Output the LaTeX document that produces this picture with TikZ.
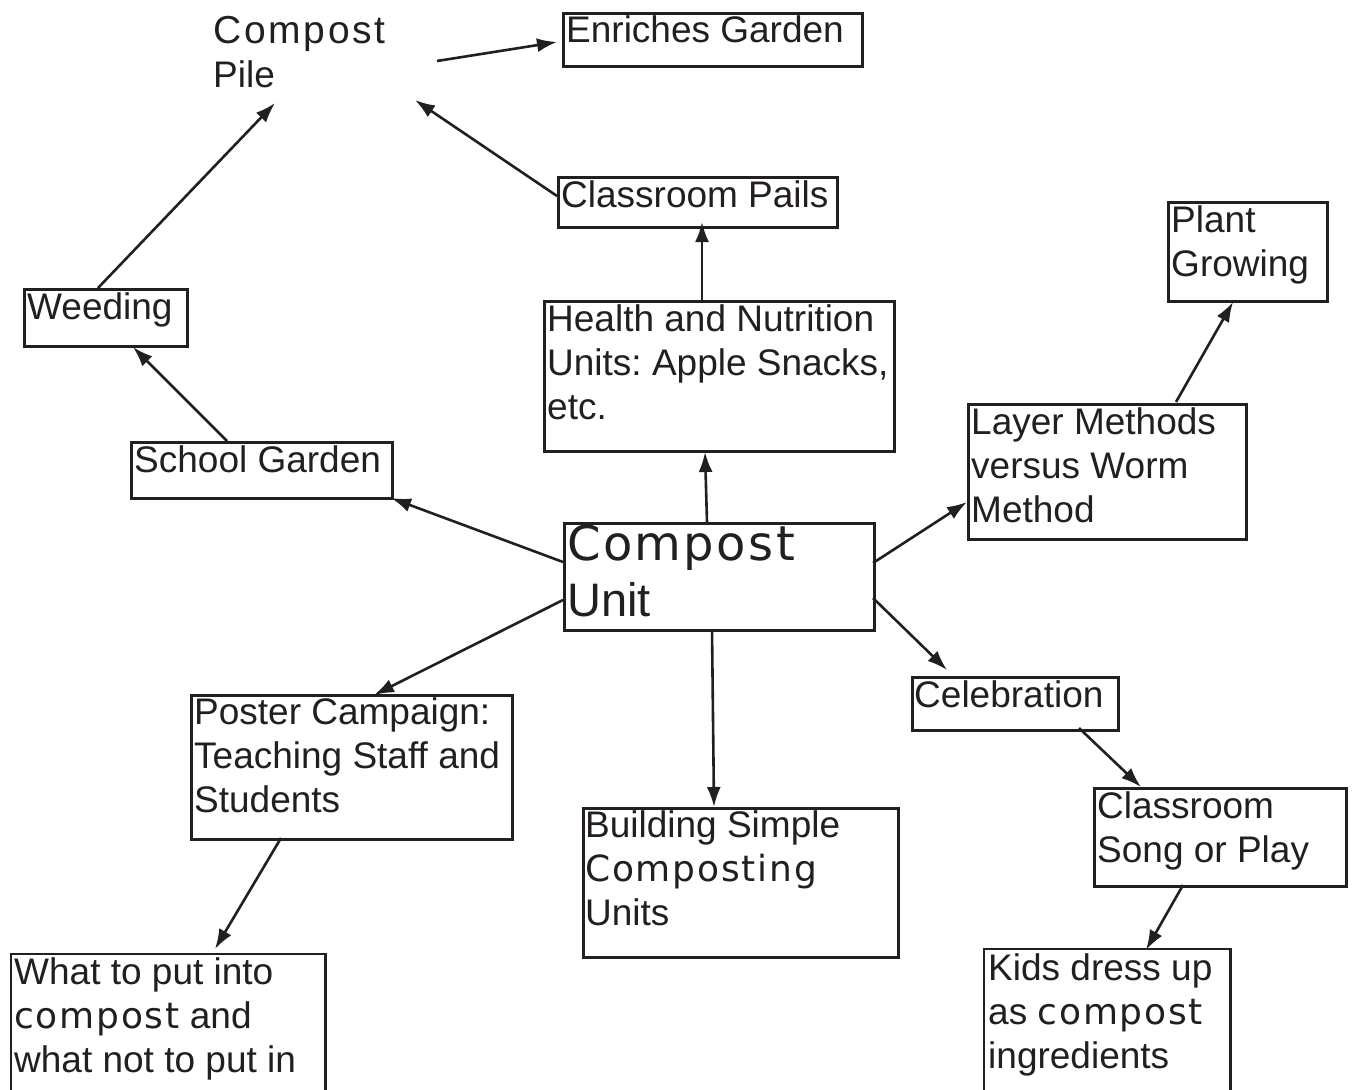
\documentclass[tikz,border=0pt]{standalone}
\usepackage{fontspec}
\setmainfont{Liberation Sans}
\newfontfamily\cpf[LetterSpace=5]{DejaVu Sans}
\newfontfamily\cpg[LetterSpace=7]{Liberation Sans}
\usetikzlibrary{arrows.meta,calc}
\definecolor{ink}{HTML}{231F20}
\frenchspacing
\tikzset{
  box/.style={draw=ink, line width=2.6pt, inner sep=0pt, anchor=north west},
  lbl/.style={anchor=north west, inner sep=0pt, align=left, text=ink,
              font=\fontsize{37}{44}\selectfont},
  arr/.style={draw=ink, line width=2.6pt, -{Latex[length=20pt,width=14pt]}},
}
\newcommand{\cw}[1]{{\fontsize{36}{44}\cpf #1}}
\begin{document}
\begin{tikzpicture}[x=1pt,y=-1pt]
\useasboundingbox[fill=white] (0,0) rectangle (1356,1089);
% boxes
\node[box,minimum width=299pt,minimum height=53pt] (enr) at (562,12) {};
\node[box,minimum width=279pt,minimum height=50pt] (pails) at (557,176) {};
\node[box,minimum width=163pt,minimum height=57pt] (weed) at (23,288) {};
\node[box,minimum width=261pt,minimum height=56pt] (sg) at (130,441) {};
\node[box,minimum width=350pt,minimum height=150pt] (hn) at (543,300) {};
\node[box,minimum width=159pt,minimum height=99pt] (pg) at (1167,201) {};
\node[box,minimum width=278pt,minimum height=135pt] (lm) at (967,403) {};
\node[box,minimum width=310pt,minimum height=107pt] (unit) at (563,522) {};
\node[box,minimum width=206pt,minimum height=53pt] (cel) at (911,676) {};
\node[box,minimum width=321pt,minimum height=144pt] (post) at (190,694) {};
\node[box,minimum width=315pt,minimum height=149pt] (bld) at (582,807) {};
\node[box,minimum width=252pt,minimum height=98pt] (song) at (1093,787) {};
\node[inner sep=0pt,anchor=north west,minimum width=314pt,minimum height=136pt] (what) at (11,954) {};
\node[inner sep=0pt,anchor=north west,minimum width=246pt,minimum height=141pt] (kids) at (984,949) {};
\draw[ink,line width=2.6pt] (what.south west) -- (what.north west) -- (what.north east) -- (what.south east);
\draw[ink,line width=2.6pt] (kids.south west) -- (kids.north west) -- (kids.north east) -- (kids.south east);
% texts
\node[lbl] (pile) at (213,16) {{\fontsize{39}{44}\cpg Compost}\\Pile};
\node[lbl] (tenr) at ($(enr.north west)+(4,3)$) {Enriches Garden};
\node[lbl] (tpails) at ($(pails.north west)+(4,4)$) {Classroom Pails};
\node[lbl] (tweed) at ($(weed.north west)+(4,4)$) {Weeding};
\node[lbl] (tsg) at ($(sg.north west)+(4,4)$) {School Garden};
\node[lbl] (thn) at ($(hn.north west)+(4,4)$) {Health and Nutrition\\Units: Apple Snacks,\\etc.};
\node[lbl] (tpg) at ($(pg.north west)+(4,4)$) {Plant\\Growing};
\node[lbl] (tlm) at ($(lm.north west)+(4,4)$) {Layer Methods\\versus Worm\\Method};
\node[lbl,font=\fontsize{48}{50}\cpf] (tunitA) at ($(unit.north west)+(4,3)$) {Compost};
\node[lbl,font=\fontsize{47}{50}\selectfont] (tunitB) at ($(unit.north west)+(4,60)$) {Unit};
\node[lbl] (tcel) at ($(cel.north west)+(3,4)$) {Celebration};
\node[lbl] (tpost) at ($(post.north west)+(4,3)$) {Poster Campaign:\\Teaching Staff and\\Students};
\node[lbl] (tbld) at ($(bld.north west)+(3,3)$) {Building Simple\\\cw{Composting}\\Units};
\node[lbl] (tsong) at ($(song.north west)+(4,4)$) {Classroom\\Song or Play};
\node[lbl] (twhat) at ($(what.north west)+(3,3)$) {What to put into\\\cw{compost} and\\what not to put in};
\node[lbl] (tkids) at ($(kids.north west)+(4,4)$) {Kids dress up\\as \cw{compost}\\ingredients};
% connectors
\draw[arr] ($(pile.north west)+(224,45)$) -- ($(enr.north west)+(-5,30)$);
\draw[arr] ($(pails.north west)+(0,20)$) -- ($(pile.north west)+(202,84)$);
\draw[arr] ($(weed.north west)+(75,0)$) -- ($(pile.north west)+(62,87)$);
\draw[arr] ($(sg.north west)+(97,0)$) -- ($(weed.north west)+(110,59)$);
\draw[arr] ($(unit.north west)+(0,40)$) -- ($(sg.north west)+(261,57)$);
\draw[arr] ($(unit.north west)+(144,0)$) -- ($(hn.north west)+(162,152)$);
\draw[arr] ($(hn.north west)+(159,0)$) -- ($(pails.north west)+(145,46)$);
\draw[arr] ($(unit.north west)+(310,41)$) -- ($(lm.north west)+(0,99)$);
\draw[arr] ($(lm.north west)+(209,-1)$) -- ($(pg.north west)+(66,101)$);
\draw[arr] ($(unit.north west)+(310,76)$) -- ($(cel.north west)+(36,-6)$);
\draw[arr] ($(cel.north west)+(168,52)$) -- ($(song.north west)+(48,0)$);
\draw[arr] ($(unit.north west)+(0,78)$) -- ($(post.north west)+(184,1)$);
\draw[arr] ($(unit.north west)+(149,107)$) -- ($(bld.north west)+(132,0)$);
\draw[arr] ($(post.north west)+(91,144)$) -- ($(what.north west)+(204,-5)$);
\draw[arr] ($(song.north west)+(90,98)$) -- ($(kids.north west)+(162,1)$);
\end{tikzpicture}
\end{document}
